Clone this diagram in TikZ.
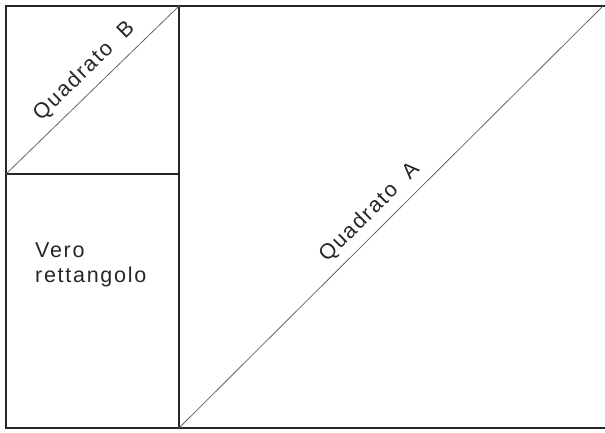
\documentclass[tikz,border=0pt]{standalone}
\usepackage{fontspec}
\setmainfont{Liberation Sans}[LetterSpace=8]
\tikzset{
  frame/.style={line width=1.3pt, draw=black!85},
  diag/.style={line width=0.8pt, draw=black!60},
  lbl/.style={font=\fontsize{21.5}{25}\selectfont, text=black!85, inner sep=0pt}
}
\begin{document}
\begin{tikzpicture}[x=1pt,y=-1pt]
\useasboundingbox (0,0) rectangle (605,432);
\coordinate (tl) at (6,6);
\coordinate (tm) at (179,6);
\coordinate (tr) at (605,6);
\coordinate (dr) at (603,6);
\coordinate (ml) at (6,174);
\coordinate (mm) at (179,174);
\coordinate (bl) at (6,428);
\coordinate (bm) at (179,428);
\coordinate (br) at (605,428);
\draw[frame] (tr) -- (tl) -- (bl) -- (br);
\draw[frame] (tm) -- (bm);
\draw[frame] (ml) -- (mm);
\draw[diag] (ml) -- node[lbl, sloped, above=9pt, pos=0.53] {Quadrato\ \ B} (tm);
\draw[diag] (bm) -- node[lbl, sloped, above=8pt, pos=0.48] {Quadrato\ \ A} (dr);
\node[lbl, anchor=base west, align=left] (vr) at (35,282) {Vero\\rettangolo};
\end{tikzpicture}
\end{document}
